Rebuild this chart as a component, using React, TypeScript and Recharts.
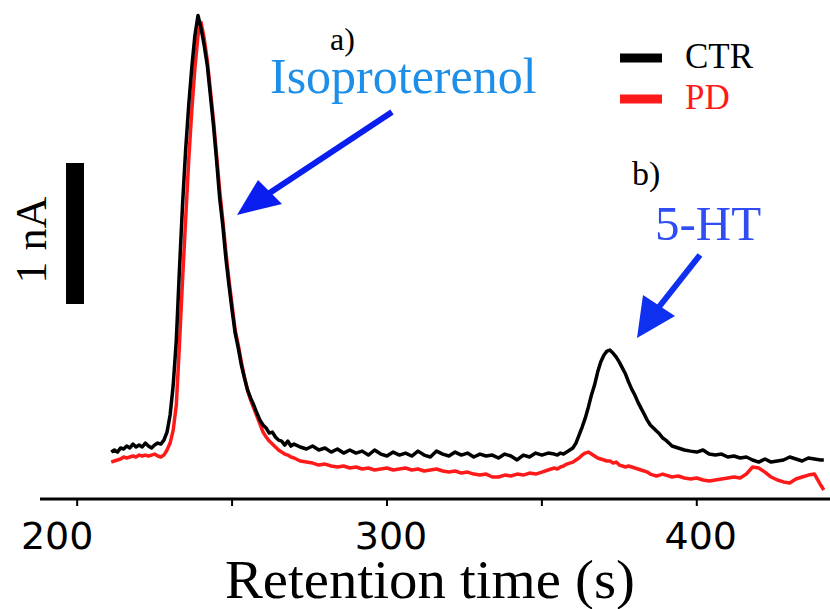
import { LineChart, Line, XAxis, YAxis, ReferenceArea, Legend } from "recharts";

// retention time (s)
const time = [
  211, 212, 213, 214, 215, 216, 217, 218, 219, 220,
  221, 222, 223, 224, 225, 226, 227, 228, 229, 230,
  231, 232, 233, 234, 235, 236, 237, 238, 239, 240,
  241, 242, 243, 244, 245, 246, 247, 248, 249, 250,
  251, 252, 253, 254, 255, 256, 257, 258, 259, 260,
  261, 262, 263, 264, 265, 266, 267, 268, 269, 270,
  272, 274, 276, 278, 280, 282, 284, 286, 288, 290,
  292, 294, 296, 298, 300, 302, 304, 306, 308, 310,
  312, 314, 316, 318, 320, 322, 324, 326, 328, 330,
  332, 334, 336, 338, 340, 342, 344, 346, 348, 350,
  352, 354,
  355, 356, 357, 358, 359, 360, 361, 362, 363, 364,
  365, 366, 367, 368, 369, 370, 371, 372, 373, 374,
  375, 376, 377, 378, 379, 380, 381, 382, 383, 384,
  385, 386, 387, 388, 389, 390, 391, 392,
  394, 396, 398, 400, 402, 404, 406, 408, 410, 412,
  414, 416, 418, 420, 422, 424, 426, 428, 430, 432,
  434, 436, 438, 440, 441,
];

// current (nA), control
const ctr = [
  0.333, 0.348, 0.333, 0.362, 0.355, 0.376, 0.362, 0.39, 0.369, 0.383,
  0.369, 0.397, 0.376, 0.362, 0.383, 0.397, 0.39, 0.418, 0.475, 0.596,
  0.809, 1.128, 1.624, 2.085, 2.475, 2.794, 3.064, 3.291, 3.433, 3.34,
  3.22, 3.078, 2.865, 2.652, 2.404, 2.135, 1.943, 1.709, 1.518, 1.34,
  1.177, 1.071, 0.95, 0.858, 0.773, 0.716, 0.667, 0.61, 0.56, 0.525,
  0.504, 0.468, 0.475, 0.44, 0.418, 0.411, 0.383, 0.411, 0.376, 0.39,
  0.369, 0.355, 0.376, 0.348, 0.362, 0.333, 0.355, 0.326, 0.348, 0.326,
  0.34, 0.312, 0.348, 0.319, 0.305, 0.333, 0.312, 0.326, 0.305, 0.34,
  0.312, 0.298, 0.34, 0.319, 0.305, 0.333, 0.312, 0.326, 0.298, 0.319,
  0.305, 0.312, 0.291, 0.319, 0.305, 0.277, 0.312, 0.298, 0.326, 0.312,
  0.326, 0.319,
  0.312, 0.326, 0.319, 0.333, 0.348, 0.362, 0.397, 0.454, 0.511, 0.574,
  0.652, 0.738, 0.809, 0.901, 0.972, 1.021, 1.05, 1.057, 1.035, 1.007,
  0.972, 0.929, 0.887, 0.83, 0.78, 0.738, 0.688, 0.645, 0.603, 0.56,
  0.525, 0.504, 0.482, 0.461, 0.433, 0.418, 0.397, 0.376,
  0.362, 0.348, 0.34, 0.333, 0.348, 0.319, 0.312, 0.319, 0.298, 0.305,
  0.291, 0.298, 0.277, 0.262, 0.284, 0.262, 0.27, 0.277, 0.298, 0.284,
  0.27, 0.291, 0.284, 0.277, 0.277,
];

// current (nA), PD
const pd = [
  0.262, 0.27, 0.277, 0.284, 0.298, 0.291, 0.298, 0.305, 0.298, 0.312,
  0.305, 0.312, 0.305, 0.312, 0.319, 0.305, 0.298, 0.312, 0.348, 0.397,
  0.489, 0.667, 1.092, 1.553, 1.979, 2.404, 2.759, 3.057, 3.291, 3.383,
  3.27, 3.113, 2.901, 2.688, 2.44, 2.191, 1.979, 1.752, 1.553, 1.376,
  1.199, 1.092, 0.972, 0.865, 0.773, 0.702, 0.645, 0.589, 0.532, 0.475,
  0.44, 0.411, 0.39, 0.369, 0.348, 0.333, 0.319, 0.312, 0.298, 0.291,
  0.27, 0.262, 0.255, 0.241, 0.248, 0.234, 0.227, 0.234, 0.22, 0.227,
  0.213, 0.22, 0.206, 0.213, 0.22, 0.206, 0.213, 0.22, 0.206, 0.213,
  0.199, 0.206, 0.213, 0.199, 0.191, 0.199, 0.184, 0.191, 0.177, 0.17,
  0.177, 0.156, 0.156, 0.17, 0.163, 0.177, 0.17, 0.184, 0.177, 0.191,
  0.206, 0.22,
  0.213, 0.227, 0.234, 0.248, 0.255, 0.262, 0.277, 0.291, 0.312, 0.326,
  0.333, 0.319, 0.305, 0.291, 0.284, 0.277, 0.27, 0.27, 0.255, 0.262,
  0.241, 0.234, 0.227, 0.234, 0.227, 0.22, 0.213, 0.206, 0.199, 0.191,
  0.177, 0.17, 0.163, 0.17, 0.177, 0.17, 0.163, 0.156,
  0.163, 0.149, 0.142, 0.149, 0.135, 0.128, 0.135, 0.142, 0.149, 0.156,
  0.149, 0.177, 0.227, 0.22, 0.191, 0.156, 0.135, 0.121, 0.113, 0.142,
  0.156, 0.17, 0.177, 0.099, 0.064,
];

const xTicks = [200, 250, 300, 350, 400];
const xTickLabels = ["200", "", "300", "", "400"];

// 1 nA scale bar
const scaleBarTime = [196.4, 202.2];
const scaleBarCurrent = [1.385, 2.385];

const series = [
  { key: "ctr", name: "CTR", color: "#000000" },
  { key: "pd", name: "PD", color: "#ff1a1a" },
];

const data = time.map((t, i) => ({ t, ctr: ctr[i], pd: pd[i] }));

const SERIF = "'Liberation Serif', 'Times New Roman', serif";

function TimeTick({ x, y, payload, index }: any) {
  const label = xTickLabels[index] ?? "";
  if (!label) return null;
  // the first label sits a bit left of its tick in the original
  const shift = payload.value === 200 ? -20 : 4;
  return (
    <text x={x + shift} y={y + 41} textAnchor="middle" fontSize={38} fontFamily="'DejaVu Sans', sans-serif" fill="#000">
      {label}
    </text>
  );
}

function LegendBox() {
  return (
    <svg width={200} height={120}>
      {series.map((s, i) => (
        <g key={s.key}>
          <line x1={0} x2={42} y1={38 + i * 41} y2={38 + i * 41} stroke={s.color} strokeWidth={9} />
          <text x={65} y={48 + i * 41} fontSize={35} fontFamily={SERIF} fill={s.color}>
            {s.name}
          </text>
        </g>
      ))}
    </svg>
  );
}

export default function App() {
  return (
    <div style={{ position: "absolute", left: 0, top: 0, width: 830, height: 609, background: "#fff" }}>
      <LineChart width={830} height={609} data={data} margin={{ top: 6, right: 0, bottom: 80, left: 40 }}>
        <XAxis
          dataKey="t"
          type="number"
          domain={[188, 443]}
          ticks={xTicks}
          interval={0}
          height={30}
          axisLine={{ stroke: "#000", strokeWidth: 3 }}
          tickLine={{ stroke: "#000", strokeWidth: 2 }}
          tickSize={7}
          tick={<TimeTick />}
          allowDataOverflow
        />
        <YAxis hide type="number" domain={[0, 3.5]} allowDataOverflow />
        <ReferenceArea
          x1={scaleBarTime[0]}
          x2={scaleBarTime[1]}
          y1={scaleBarCurrent[0]}
          y2={scaleBarCurrent[1]}
          fill="#000"
          fillOpacity={1}
          stroke="none"
        />
        <Legend
          layout="horizontal"
          verticalAlign="middle"
          align="center"
          content={<LegendBox />}
          wrapperStyle={{ left: 620, top: 20, width: 200, height: 120 }}
        />
        <Line dataKey="pd" name="PD" stroke="#ff1a1a" strokeWidth={3.5} dot={false} isAnimationActive={false} strokeLinejoin="round" />
        <Line dataKey="ctr" name="CTR" stroke="#000" strokeWidth={3.5} dot={false} isAnimationActive={false} strokeLinejoin="round" />
      </LineChart>
      <svg width={830} height={609} style={{ position: "absolute", left: 0, top: 0, pointerEvents: "none" }}>
        <text x={225} y={598} textLength={410} lengthAdjust="spacingAndGlyphs" fontSize={55} fontFamily={SERIF} fill="#000">
          Retention time (s)
        </text>
        <text transform="translate(46,240) rotate(-90)" textAnchor="middle" fontSize={44} fontFamily={SERIF} fill="#000">
          1 nA
        </text>
        <text x={330} y={50} fontSize={32} fontFamily={SERIF} fill="#000">a)</text>
        <text x={270} y={93} fontSize={50} fontFamily={SERIF} fill="#1e8fe8">Isoproterenol</text>
        <line x1={392} y1={112} x2={262} y2={198} stroke="#0a1ef0" strokeWidth={6} />
        <polygon points="237,215 258,180 282,204" fill="#0a1ef0" />
        <text x={632} y={185} fontSize={34} fontFamily={SERIF} fill="#000">b)</text>
        <text x={655} y={240} fontSize={49} fontFamily={SERIF} fill="#2f4cf5">5-HT</text>
        <line x1={700} y1={255} x2={655} y2={312} stroke="#1030f0" strokeWidth={6} />
        <polygon points="637,338 643,295 675,316" fill="#1030f0" />
      </svg>
    </div>
  );
}
